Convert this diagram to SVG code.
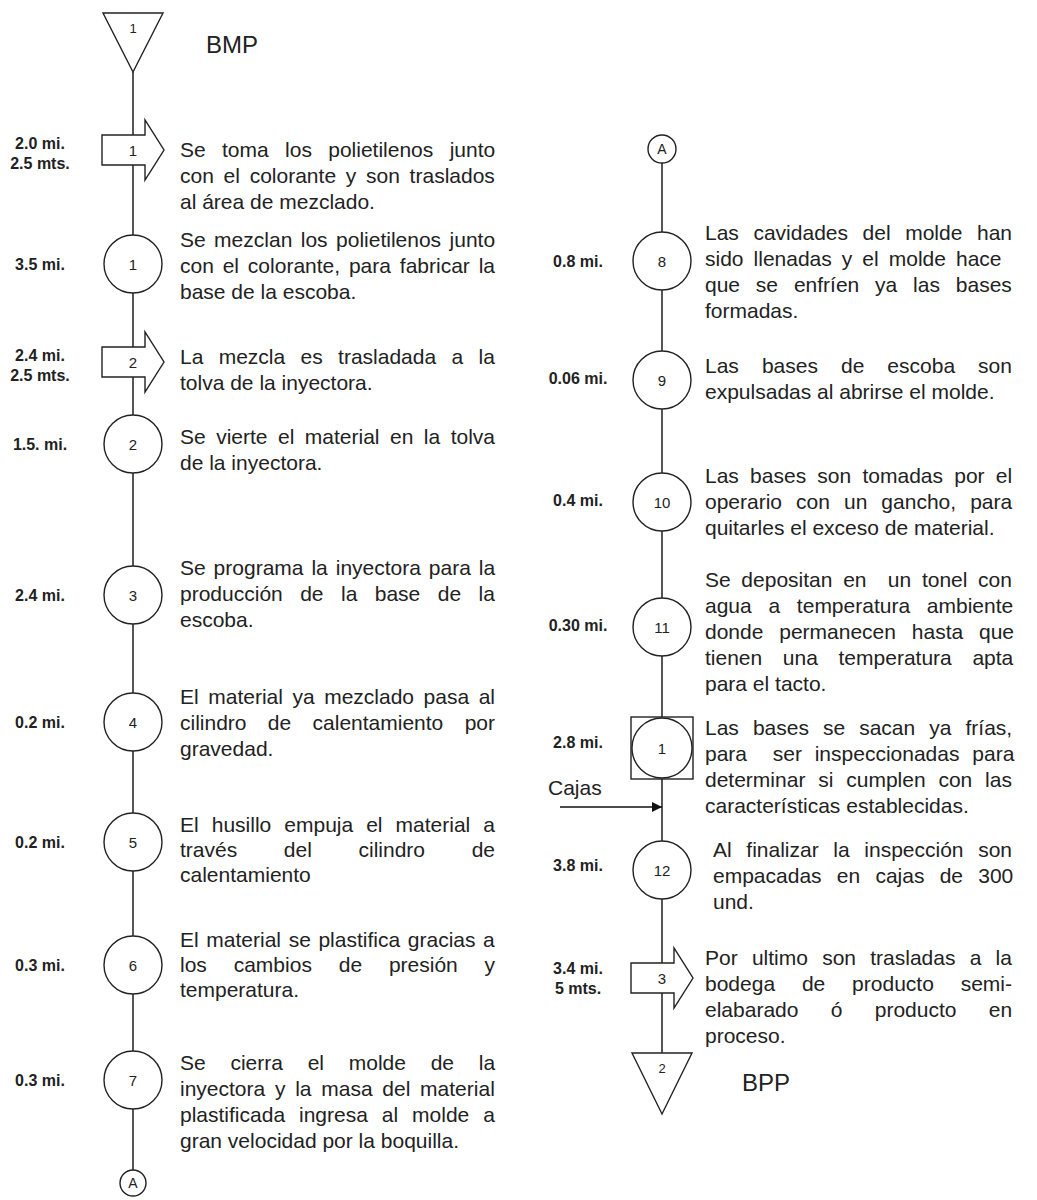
<svg xmlns="http://www.w3.org/2000/svg" width="1037" height="1200" viewBox="0 0 1037 1200">
<style>
.t{font-family:"Liberation Sans",Arial,sans-serif;font-size:21px;fill:#222}
.lb{font-family:"Liberation Sans",Arial,sans-serif;font-size:16px;font-weight:bold;fill:#222;text-anchor:middle}
.n{font-family:"Liberation Sans",Arial,sans-serif;font-size:15px;fill:#222;text-anchor:middle}
.big{font-family:"Liberation Sans",Arial,sans-serif;font-size:24px;fill:#222}
.sh{fill:#fff;stroke:#222;stroke-width:1.4}
.ln{stroke:#444;stroke-width:1.8;fill:none}
</style>
<defs>
<marker id="ah" markerWidth="10" markerHeight="10" refX="10" refY="5" orient="auto" markerUnits="userSpaceOnUse">
<path d="M0,0 L10,5 L0,10 Z" fill="#111"/>
</marker>
</defs>
<rect width="1037" height="1200" fill="#fff"/>
<g id="connectors">
<line class="ln" x1="133" y1="72" x2="133" y2="135"/>
<line class="ln" x1="133" y1="165" x2="133" y2="235"/>
<line class="ln" x1="133" y1="293" x2="133" y2="347"/>
<line class="ln" x1="133" y1="377" x2="133" y2="415"/>
<line class="ln" x1="133" y1="473" x2="133" y2="566"/>
<line class="ln" x1="133" y1="624" x2="133" y2="693"/>
<line class="ln" x1="133" y1="751" x2="133" y2="813"/>
<line class="ln" x1="133" y1="871" x2="133" y2="936"/>
<line class="ln" x1="133" y1="994" x2="133" y2="1051"/>
<line class="ln" x1="133" y1="1109" x2="133" y2="1170"/>
<line class="ln" x1="662" y1="163" x2="662" y2="232"/>
<line class="ln" x1="662" y1="290" x2="662" y2="351"/>
<line class="ln" x1="662" y1="409" x2="662" y2="473"/>
<line class="ln" x1="662" y1="531" x2="662" y2="598"/>
<line class="ln" x1="662" y1="656" x2="662" y2="717"/>
<line class="ln" x1="662" y1="779" x2="662" y2="841"/>
<line class="ln" x1="662" y1="899" x2="662" y2="963"/>
<line class="ln" x1="662" y1="993" x2="662" y2="1053"/>
<line x1="560" y1="807" x2="662" y2="807" stroke="#111" stroke-width="1.6" marker-end="url(#ah)"/>
<text class="t" x="548" y="795">Cajas</text>
</g>
<g id="bmp">
<polygon class="sh" points="103,13 163,13 133,72"/>
<text class="n" x="133" y="33" style="font-size:13px">1</text>
<text class="big" x="206" y="53">BMP</text>
</g>
<g id="t1">
<path class="sh" d="M102,135 H145 V120 L164,150 L145,180 V165 H102 Z"/>
<text class="n" x="133" y="156">1</text>
<text class="lb" x="40" y="149">2.0 mi.</text>
<text class="lb" x="40" y="169">2.5 mts.</text>
<text class="t" x="180" y="157" word-spacing="10.5">Se toma los polietilenos junto</text>
<text class="t" x="180" y="183" word-spacing="3.9">con el colorante y son traslados</text>
<text class="t" x="180" y="209">al área de mezclado.</text>
</g>
<g id="o1">
<circle class="sh" cx="133" cy="264" r="29"/>
<text class="n" x="133" y="270">1</text>
<text class="lb" x="40" y="270">3.5 mi.</text>
<text class="t" x="180" y="247" word-spacing="2.6">Se mezclan los polietilenos junto</text>
<text class="t" x="180" y="273" word-spacing="3.0">con el colorante, para fabricar la</text>
<text class="t" x="180" y="299">base de la escoba.</text>
</g>
<g id="t2">
<path class="sh" d="M102,347 H145 V332 L164,362 L145,392 V377 H102 Z"/>
<text class="n" x="133" y="368">2</text>
<text class="lb" x="40" y="361">2.4 mi.</text>
<text class="lb" x="40" y="381">2.5 mts.</text>
<text class="t" x="180" y="364" word-spacing="9.5">La mezcla es trasladada a la</text>
<text class="t" x="180" y="390">tolva de la inyectora.</text>
</g>
<g id="o2">
<circle class="sh" cx="133" cy="444" r="29"/>
<text class="n" x="133" y="450">2</text>
<text class="lb" x="40" y="450">1.5. mi.</text>
<text class="t" x="180" y="444" word-spacing="4.65">Se vierte el material en la tolva</text>
<text class="t" x="180" y="470">de la inyectora.</text>
</g>
<g id="o3">
<circle class="sh" cx="133" cy="595" r="29"/>
<text class="n" x="133" y="601">3</text>
<text class="lb" x="40" y="601">2.4 mi.</text>
<text class="t" x="180" y="575" word-spacing="2.1">Se programa la inyectora para la</text>
<text class="t" x="180" y="601" word-spacing="11.6">producción de la base de la</text>
<text class="t" x="180" y="627">escoba.</text>
</g>
<g id="o4">
<circle class="sh" cx="133" cy="722" r="29"/>
<text class="n" x="133" y="728">4</text>
<text class="lb" x="40" y="728">0.2 mi.</text>
<text class="t" x="180" y="704" word-spacing="3.7">El material ya mezclado pasa al</text>
<text class="t" x="180" y="730" word-spacing="15.5">cilindro de calentamiento por</text>
<text class="t" x="180" y="756">gravedad.</text>
</g>
<g id="o5">
<circle class="sh" cx="133" cy="842" r="29"/>
<text class="n" x="133" y="848">5</text>
<text class="lb" x="40" y="848">0.2 mi.</text>
<text class="t" x="180" y="832" word-spacing="7.2">El husillo empuja el material a</text>
<text class="t" x="180" y="857" word-spacing="40.8">través del cilindro de</text>
<text class="t" x="180" y="882">calentamiento</text>
</g>
<g id="o6">
<circle class="sh" cx="133" cy="965" r="29"/>
<text class="n" x="133" y="971">6</text>
<text class="lb" x="40" y="971">0.3 mi.</text>
<text class="t" x="180" y="947" word-spacing="1.8">El material se plastifica gracias a</text>
<text class="t" x="180" y="972" word-spacing="21">los cambios de presión y</text>
<text class="t" x="180" y="997">temperatura.</text>
</g>
<g id="o7">
<circle class="sh" cx="133" cy="1080" r="29"/>
<text class="n" x="133" y="1086">7</text>
<text class="lb" x="40" y="1086">0.3 mi.</text>
<text class="t" x="180" y="1070" word-spacing="18.9">Se cierra el molde de la</text>
<text class="t" x="180" y="1096" word-spacing="3.9">inyectora y la masa del material</text>
<text class="t" x="180" y="1122" word-spacing="8.1">plastificada ingresa al molde a</text>
<text class="t" x="180" y="1148">gran velocidad por la boquilla.</text>
</g>
<g id="a-out">
<circle class="sh" cx="133" cy="1183" r="13"/>
<text class="n" x="133" y="1188" style="font-size:14px">A</text>
</g>
<g id="a-in">
<circle class="sh" cx="662" cy="149" r="14"/>
<text class="n" x="662" y="154" style="font-size:14px">A</text>
</g>
<g id="o8">
<circle class="sh" cx="662" cy="261" r="29"/>
<text class="n" x="662" y="267">8</text>
<text class="lb" x="578" y="267">0.8 mi.</text>
<text class="t" x="705" y="240" word-spacing="8.75">Las cavidades del molde han</text>
<text class="t" x="705" y="266" word-spacing="4.2">sido llenadas y el molde hace</text>
<text class="t" x="705" y="292" word-spacing="10">que se enfríen ya las bases</text>
<text class="t" x="705" y="318">formadas.</text>
</g>
<g id="o9">
<circle class="sh" cx="662" cy="380" r="29"/>
<text class="n" x="662" y="386">9</text>
<text class="lb" x="578" y="384">0.06 mi.</text>
<text class="t" x="705" y="373" word-spacing="17.2">Las bases de escoba son</text>
<text class="t" x="705" y="399">expulsadas al abrirse el molde.</text>
</g>
<g id="o10">
<circle class="sh" cx="662" cy="502" r="29"/>
<text class="n" x="662" y="508">10</text>
<text class="lb" x="578" y="506">0.4 mi.</text>
<text class="t" x="705" y="483" word-spacing="5.4">Las bases son tomadas por el</text>
<text class="t" x="705" y="509" word-spacing="8.2">operario con un gancho, para</text>
<text class="t" x="705" y="535">quitarles el exceso de material.</text>
</g>
<g id="o11">
<circle class="sh" cx="662" cy="627" r="29"/>
<text class="n" x="662" y="633">11</text>
<text class="lb" x="578" y="631">0.30 mi.</text>
<text class="t" x="705" y="587" word-spacing="4.85" xml:space="preserve">Se depositan en  un tonel con</text>
<text class="t" x="705" y="613" word-spacing="10.9">agua a temperatura ambiente</text>
<text class="t" x="705" y="639" word-spacing="10">donde permanecen hasta que</text>
<text class="t" x="705" y="665" word-spacing="14.8">tienen una temperatura apta</text>
<text class="t" x="705" y="691">para el tacto.</text>
</g>
<g id="i1">
<rect class="sh" x="631" y="717" width="62" height="62"/>
<circle class="sh" cx="662" cy="748" r="30"/>
<text class="n" x="662" y="754">1</text>
<text class="lb" x="578" y="748">2.8 mi.</text>
<text class="t" x="705" y="735" word-spacing="8.2">Las bases se sacan ya frías,</text>
<text class="t" x="705" y="761" word-spacing="7" xml:space="preserve">para  ser inspeccionadas para</text>
<text class="t" x="705" y="787" word-spacing="7">determinar si cumplen con las</text>
<text class="t" x="705" y="813">características establecidas.</text>
</g>
<g id="o12">
<circle class="sh" cx="662" cy="870" r="29"/>
<text class="n" x="662" y="876">12</text>
<text class="lb" x="578" y="871">3.8 mi.</text>
<text class="t" x="713" y="857" word-spacing="8.8">Al finalizar la inspección son</text>
<text class="t" x="713" y="883" word-spacing="9.4">empacadas en cajas de 300</text>
<text class="t" x="713" y="909">und.</text>
</g>
<g id="t3">
<path class="sh" d="M631,963 H674 V948 L693,978 L674,1008 V993 H631 Z"/>
<text class="n" x="662" y="984">3</text>
<text class="lb" x="578" y="974">3.4 mi.</text>
<text class="lb" x="578" y="994">5 mts.</text>
<text class="t" x="705" y="965" word-spacing="8.4">Por ultimo son trasladas a la</text>
<text class="t" x="705" y="991" word-spacing="21">bodega de producto semi-</text>
<text class="t" x="705" y="1017" word-spacing="26.5">elabarado ó producto en</text>
<text class="t" x="705" y="1043">proceso.</text>
</g>
<g id="bpp">
<polygon class="sh" points="632,1053 692,1053 662,1114"/>
<text class="n" x="662" y="1073" style="font-size:13px">2</text>
<text class="big" x="742" y="1091">BPP</text>
</g>
</svg>
